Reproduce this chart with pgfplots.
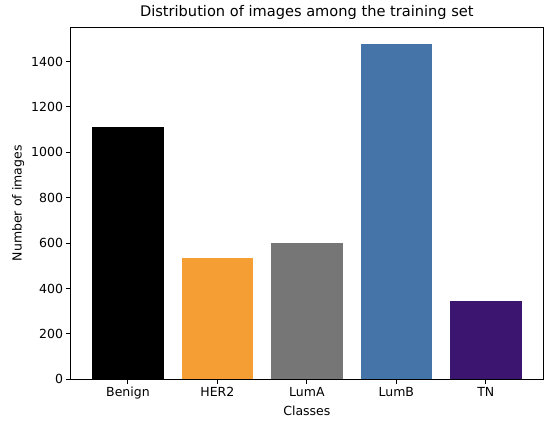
\documentclass[border=0pt]{standalone}
\usepackage{fontspec}
\setmainfont{DejaVu Sans}
\usepackage{pgfplots}
\pgfplotsset{compat=1.18}
\definecolor{cBenign}{RGB}{0,0,0}
\definecolor{cHER}{RGB}{245,158,51}
\definecolor{cLumA}{RGB}{118,118,118}
\definecolor{cLumB}{RGB}{69,117,168}
\definecolor{cTN}{RGB}{59,21,112}
\begin{document}
\begin{tikzpicture}
\begin{axis}[
    at={(0,0)}, anchor=south west,
    scale only axis,
    width=472.3pt, height=352pt,
    xmin=-0.64, xmax=4.64,
    ymin=0, ymax=1551,
    ybar, bar width=0.8, bar shift=0pt,
    xtick={0,1,2,3,4},
    xticklabels={Benign,HER2,LumA,LumB,TN},
    ytick={0,200,400,600,800,1000,1200,1400},
    xtick pos=left, ytick pos=left,
    tick align=outside,
    major tick length=4.2pt,
    every tick/.style={black, line width=0.96pt},
    axis line style={line width=0.96pt},
    /pgf/number format/assume math mode=true,
    /pgf/number format/1000 sep={},
    tick label style={font=\fontsize{12.5}{15}\selectfont},
    label style={font=\fontsize{12.5}{15}\selectfont},
    title style={font=\fontsize{14.6}{17}\selectfont, yshift=-2pt},
    title={Distribution of images among the training set},
    xlabel={Classes},
    ylabel={Number of images},
]
\addplot[fill=cBenign, draw=none] coordinates {(0,1111)};
\addplot[fill=cHER, draw=none] coordinates {(1,533)};
\addplot[fill=cLumA, draw=none] coordinates {(2,599)};
\addplot[fill=cLumB, draw=none] coordinates {(3,1477)};
\addplot[fill=cTN, draw=none] coordinates {(4,343)};
\end{axis}
\pgfresetboundingbox
\path[use as bounding box] (-70.7pt,-44.7pt) rectangle (479.3pt,379.3pt);
\end{tikzpicture}
\end{document}
